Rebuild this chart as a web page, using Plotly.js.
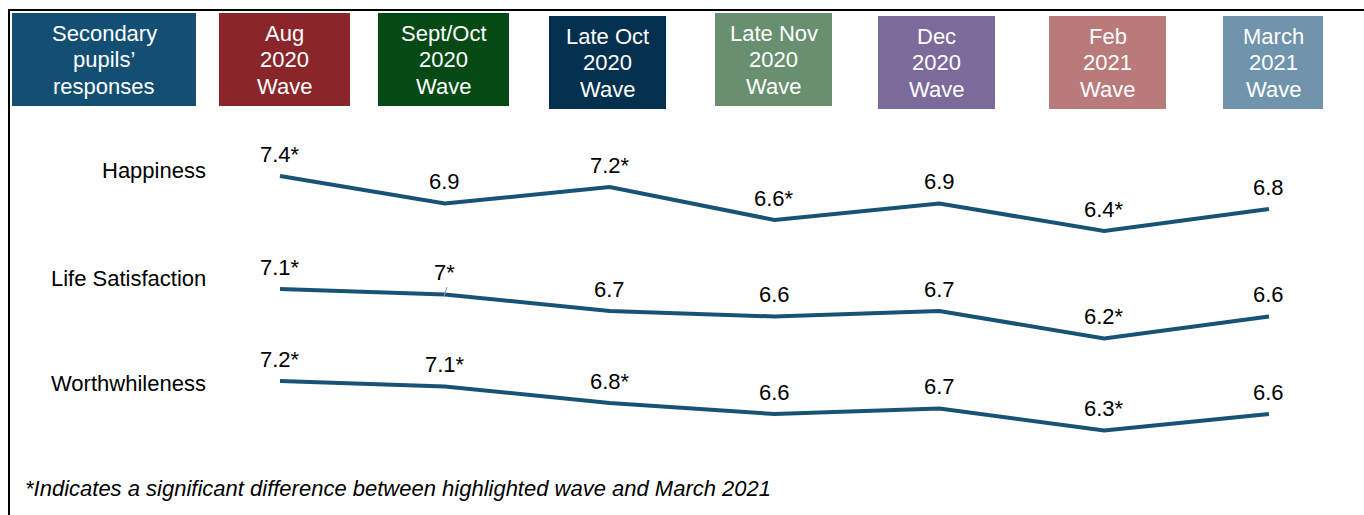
<!DOCTYPE html>
<html>
<head>
<meta charset="utf-8">
<script src="https://cdn.plot.ly/plotly-3.0.1.min.js"></script>
<style>html,body{margin:0;padding:0;background:#fff;}#chart{width:1364px;height:515px;}</style>
</head>
<body>
<div id="chart"></div>
<script>
// ---- data ----
const waves = ["Aug 2020 Wave", "Sept/Oct 2020 Wave", "Late Oct 2020 Wave", "Late Nov 2020 Wave", "Dec 2020 Wave", "Feb 2021 Wave", "March 2021 Wave"];
const headerLabels = [["Secondary", "pupils’", "responses"], ["Aug", "2020", "Wave"], ["Sept/Oct", "2020", "Wave"], ["Late Oct", "2020", "Wave"], ["Late Nov", "2020", "Wave"], ["Dec", "2020", "Wave"], ["Feb", "2021", "Wave"], ["March", "2021", "Wave"]];
const measures = ["Happiness", "Life Satisfaction", "Worthwhileness"];
const happiness = [7.4, 6.9, 7.2, 6.6, 6.9, 6.4, 6.8];
const happinessSig = [true, false, true, true, false, true, false];
const lifeSatisfaction = [7.1, 7.0, 6.7, 6.6, 6.7, 6.2, 6.6];
const lifeSatisfactionSig = [true, true, false, false, false, true, false];
const worthwhileness = [7.2, 7.1, 6.8, 6.6, 6.7, 6.3, 6.6];
const worthwhilenessSig = [true, true, true, false, false, true, false];
const footnote = "*Indicates a significant difference between highlighted wave and March 2021";

// ---- styles ----
const W = 1364, H = 515;
const lineColor = "#185275";
const headerColors = ["#124F73", "#8A262A", "#054A15", "#03304F", "#678F70", "#7C6A9A", "#B97A7A", "#7094AC"];
// header boxes in pixels [x0, x1, y0, y1]
const headerBoxes = [[12,196,13,106],[219,350,13,106],[378,509,13,106],[549,666,16,109],[715,832,13,106],[878,995,16,109],[1049,1166,16,109],[1223,1323,16,109]];
const font = "Liberation Sans, Arial, sans-serif";
const px = x => x / W;
const py = y => 1 - y / H;

const series = [
  {name: measures[0], y: happiness, sig: happinessSig, axis: "y", range: [1.2364, 10.6]},
  {name: measures[1], y: lifeSatisfaction, sig: lifeSatisfactionSig, axis: "y2", range: [2.9909, 12.3545]},
  {name: measures[2], y: worthwhileness, sig: worthwhilenessSig, axis: "y3", range: [4.7636, 14.1273]}
];
const xIdx = waves.map((w, i) => i);

const traces = series.map(s => ({
  type: "scatter", mode: "lines", x: xIdx, y: s.y, yaxis: s.axis, name: s.name,
  line: {color: lineColor, width: 4}, hoverinfo: "skip", showlegend: false
}));

const annotations = [];
series.forEach(s => {
  s.y.forEach((v, i) => {
    annotations.push({
      x: i, y: v, xref: "x", yref: s.axis, text: String(v) + (s.sig[i] ? "*" : ""),
      showarrow: false, yshift: 22, xanchor: "center", yanchor: "middle",
      font: {family: font, size: 22, color: "#000"}
    });
  });
});
// row labels
const rowLabelY = [171, 278, 383];
measures.forEach((m, i) => annotations.push({
  xref: "paper", yref: "paper", x: px(208), y: py(rowLabelY[i]), text: m, showarrow: false,
  xanchor: "right", yanchor: "middle", font: {family: font, size: 22, color: "#000"}
}));
// header boxes and texts
const shapes = [];
headerBoxes.forEach((b, i) => {
  shapes.push({type: "rect", xref: "paper", yref: "paper", x0: px(b[0]), x1: px(b[1]), y0: py(b[3]), y1: py(b[2]),
    fillcolor: headerColors[i], line: {width: 0}, layer: "below"});
  const cy = (b[2] + b[3]) / 2;
  headerLabels[i].forEach((ln, k) => {
    annotations.push({xref: "paper", yref: "paper", x: px((b[0] + b[1]) / 2), y: py(cy + (k - 1) * 26.5),
      text: ln, showarrow: false, xanchor: "center", yanchor: "middle",
      font: {family: font, size: 22, color: "#fff"}});
  });
});
// footnote
annotations.push({xref: "paper", yref: "paper", x: px(23), y: py(488), text: "<i>" + footnote + "</i>",
  showarrow: false, xanchor: "left", yanchor: "middle", font: {family: font, size: 22, color: "#000"}});
// frame lines
shapes.push({type: "line", xref: "paper", yref: "paper", x0: px(8), x1: 1, y0: py(10), y1: py(10), line: {color: "#000", width: 2}});
shapes.push({type: "line", xref: "paper", yref: "paper", x0: px(9), x1: px(9), y0: py(10), y1: 0, line: {color: "#000", width: 2}});
// small leader line near "7*"
shapes.push({type: "line", xref: "paper", yref: "paper", x0: px(447), x1: px(444), y0: py(287), y1: py(296), line: {color: "#999", width: 1}});

const axisBase = {visible: false, showgrid: false, zeroline: false, fixedrange: true};
const layout = {
  width: W, height: H, margin: {l: 0, r: 0, t: 0, b: 0},
  paper_bgcolor: "#fff", plot_bgcolor: "#fff",
  xaxis: Object.assign({}, axisBase, {range: [-280 / 164.83, (W - 280) / 164.83]}),
  yaxis: Object.assign({}, axisBase, {range: series[0].range}),
  yaxis2: Object.assign({}, axisBase, {range: series[1].range, overlaying: "y"}),
  yaxis3: Object.assign({}, axisBase, {range: series[2].range, overlaying: "y"}),
  shapes: shapes, annotations: annotations, showlegend: false
};
Plotly.newPlot("chart", traces, layout, {displayModeBar: false, staticPlot: true});
</script>
</body>
</html>
